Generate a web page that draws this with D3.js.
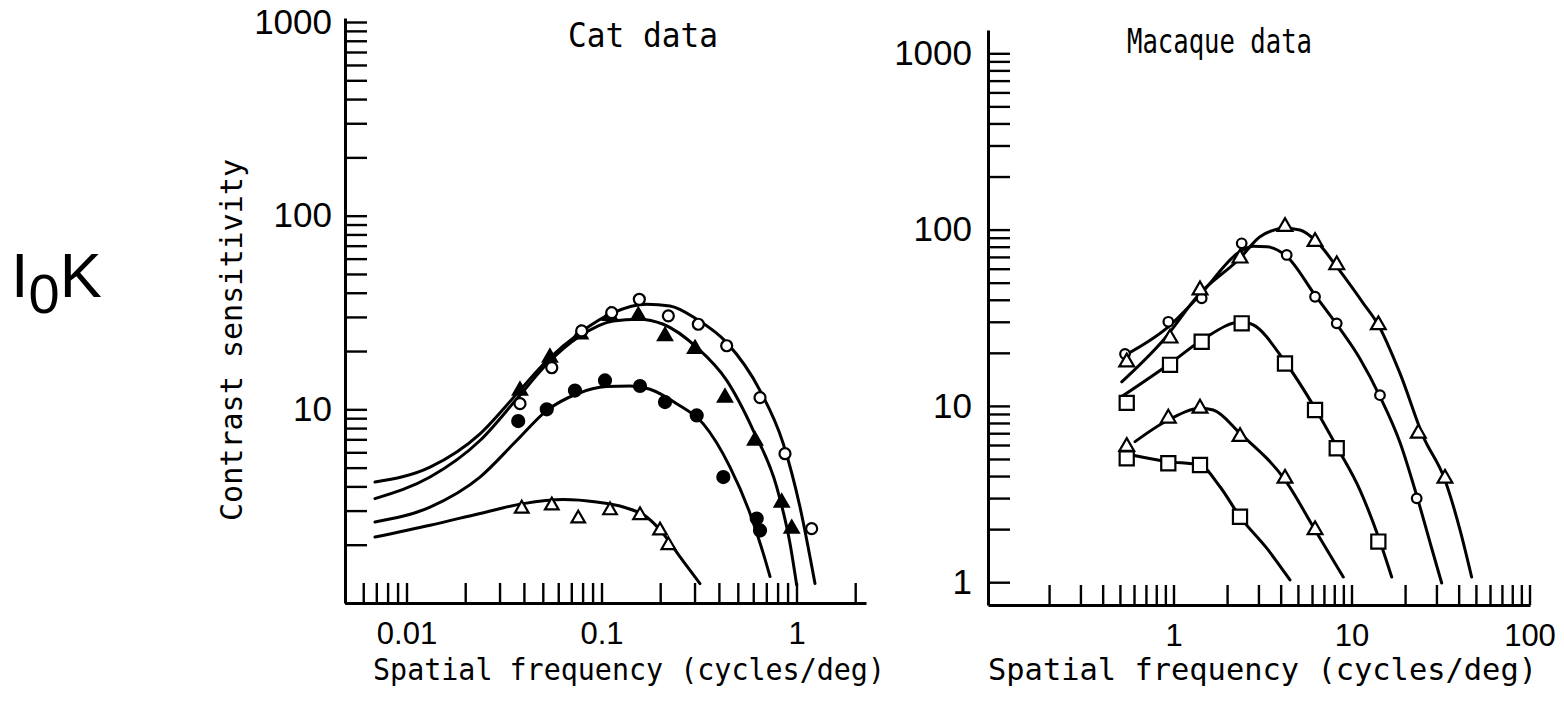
<!DOCTYPE html>
<html>
<head>
<meta charset="utf-8">
<script src="https://cdn.jsdelivr.net/npm/d3@7"></script>
<style>
  body { margin: 0; background: #fff; }
  svg { display: block; }
  .axis path { stroke: #000; stroke-width: 3; }
  .axis line { stroke: #000; stroke-width: 2.4; }
  .axis text { font-family: "Liberation Sans", Arial, sans-serif; fill: #000; }
  .curve { fill: none; stroke: #000; stroke-width: 3; stroke-linecap: round; }
  .plot-text { font-family: "DejaVu Sans Mono", monospace; fill: #000; }
</style>
</head>
<body>
<svg width="1564" height="706"></svg>
<script>
// ---- tick labels ----
var catFreqMajor = [0.01, 0.1, 1];
var catFreqLabels = ["0.01", "0.1", "1"];
var catSensMajor = [10, 100, 1000];
var catSensLabels = ["10", "100", "1000"];
var macFreqMajor = [1, 10, 100];
var macFreqLabels = ["1", "10", "100"];
var macSensMajor = [1, 10, 100, 1000];
var macSensLabels = ["1", "10", "100", "1000"];

// ---- cat data: [cycles/deg, contrast sensitivity] ----
var catOpenCircles = [[0.0382, 10.7], [0.0556, 16.4], [0.0791, 25.4], [0.1128, 31.6], [0.1563, 37.0],
  [0.2202, 30.4], [0.3137, 27.5], [0.4385, 21.3], [0.650, 11.5], [0.873, 5.9], [1.196, 2.42]];
var catFilledTriangles = [[0.0382, 12.5], [0.0544, 18.5], [0.078, 24.4], [0.1106, 30.4], [0.1545, 30.4],
  [0.2117, 23.9], [0.3016, 20.5], [0.4298, 11.5], [0.6125, 6.9], [0.8397, 3.3], [0.9449, 2.42]];
var catFilledCircles = [[0.0374, 8.7], [0.0524, 10.0], [0.0731, 12.5], [0.1042, 14.1], [0.1576, 13.2],
  [0.2117, 10.9], [0.3078, 9.3], [0.4214, 4.47], [0.6251, 2.73], [0.650, 2.37]];
var catOpenTriangles = [[0.0390, 3.07], [0.0556, 3.19], [0.0760, 2.73], [0.1106, 3.01], [0.1576, 2.84],
  [0.1995, 2.37], [0.2202, 1.99]];

// fitted curves
var catCurve1 = [[0.00689, 4.21], [0.01321, 5.03], [0.02382, 7.47], [0.03673, 12.0], [0.05236, 17.8],
  [0.07762, 24.9], [0.1149, 31.6], [0.1705, 34.9], [0.2244, 34.2], [0.3078, 29.2], [0.4385, 22.1],
  [0.6501, 12.5], [0.8555, 6.64], [1.042, 3.13], [1.244, 1.26]];
var catCurve2 = [[0.00689, 3.46], [0.01321, 4.47], [0.02382, 6.90], [0.03673, 11.3], [0.05236, 17.1],
  [0.07762, 23.9], [0.1149, 28.6], [0.1545, 29.2], [0.2074, 27.5], [0.3078, 20.9], [0.4385, 14.1],
  [0.6006, 7.77], [0.7918, 3.97], [0.9262, 2.03], [1.002, 1.24]];
var catCurve3 = [[0.00689, 2.62], [0.01321, 3.13], [0.02382, 4.47], [0.03673, 6.90], [0.05236, 9.85],
  [0.07459, 12.0], [0.1063, 13.1], [0.1400, 13.2], [0.1773, 12.7], [0.2430, 10.7], [0.3327, 8.41],
  [0.4560, 5.03], [0.5777, 2.90], [0.6760, 1.80], [0.7315, 1.37]];
var catCurve4 = [[0.00689, 2.19], [0.01321, 2.52], [0.02382, 2.90], [0.03972, 3.26], [0.06368, 3.42],
  [0.09446, 3.32], [0.1294, 3.13], [0.1705, 2.78], [0.2074, 2.28], [0.2528, 1.73], [0.3199, 1.26]];

// ---- macaque data ----
var macOpenTriangles = [[0.546, 17.7], [0.956, 24.2], [1.409, 45.4], [2.364, 68.8], [4.23, 103.9],
  [6.24, 85.4], [8.26, 63.0], [14.15, 28.8], [23.73, 6.99], [33.5, 3.88]];
var macOpenCircles = [[0.534, 19.7], [0.935, 30.0], [1.440, 40.8], [2.416, 83.6], [4.325, 71.8],
  [6.24, 41.6], [8.26, 29.4], [14.45, 11.5], [23.24, 2.99]];
var macSquares = [[0.546, 10.4], [0.956, 17.1], [1.440, 23.1], [2.416, 29.4], [4.23, 17.4],
  [6.24, 9.48], [8.26, 5.75], [14.15, 1.70]];
var macTriangles = [[0.546, 5.87], [0.935, 8.51], [1.409, 9.69], [2.364, 6.69], [4.23, 3.88], [6.24, 1.98]];
var macSquaresLow = [[0.546, 5.04], [0.935, 4.73], [1.409, 4.62], [2.364, 2.35]];

var macCurve1 = [[0.512, 13.7], [0.876, 23.6], [1.409, 43.5], [2.364, 68.8], [3.062, 91.2], [4.23, 101.7],
  [5.136, 99.5], [6.375, 85.4], [8.26, 61.6], [11.65, 38.2], [14.15, 28.8], [18.73, 15.3], [25.3, 6.69],
  [33.5, 3.80], [40.7, 1.98], [47.3, 1.07]];
var macCurve2 = [[0.534, 19.4], [0.935, 28.1], [1.409, 42.6], [2.364, 75.0], [2.808, 80.5], [3.34, 80.0],
  [4.325, 70.5], [6.24, 42.5], [8.26, 29.0], [11.16, 18.5], [14.45, 11.3], [18.73, 6.2], [23.24, 3.1],
  [28.0, 1.6], [32.1, 0.99]];
var macCurve3 = [[0.512, 11.3], [0.956, 17.4], [1.440, 23.6], [2.416, 30.0], [2.808, 28.8], [4.23, 17.8],
  [6.24, 9.69], [8.26, 5.87], [11.16, 3.33], [14.15, 1.81], [16.82, 1.07]];
var macCurve4 = [[0.608, 6.27], [0.935, 8.32], [1.422, 9.69], [1.673, 9.48], [2.364, 6.99], [4.23, 3.80],
  [6.24, 1.98], [8.99, 1.07]];
var macCurve5 = [[0.546, 5.34], [0.935, 4.83], [1.409, 4.62], [1.825, 3.48], [2.364, 2.35], [3.340, 1.56],
  [4.512, 1.03]];

var svg = d3.select("svg");

// log scale anchored on two decades, then stretched to the drawn axis ends
function stretchLog(d0, d1, r0, r1, p0, p1) {
  var s = d3.scaleLog().domain([d0, d1]).range([r0, r1]);
  return s.domain([s.invert(p0), s.invert(p1)]).range([p0, p1]);
}

function pickLabel(majors, labels) {
  return function(d) {
    for (var i = 0; i < majors.length; i++) {
      if (Math.abs(d / majors[i] - 1) < 1e-6) return labels[i];
    }
    return "";
  };
}

function drawAxes(x, y, o) {
  var xTicks = d3.scaleLog().domain(o.xTickRange).ticks();
  var yTicks = d3.scaleLog().domain([1, 1000]).ticks();

  svg.append("g")
    .attr("class", "axis")
    .attr("transform", "translate(0," + y.range()[0] + ")")
    .call(d3.axisBottom(x)
      .tickValues(xTicks)
      .tickSizeInner(-20)
      .tickSizeOuter(0)
      .tickPadding(19)
      .tickFormat(pickLabel(o.xMajor, o.xLabels)))
    .selectAll("text").style("font-size", "31px");

  svg.append("g")
    .attr("class", "axis")
    .attr("transform", "translate(" + x.range()[0] + ",0)")
    .call(d3.axisLeft(y)
      .tickValues(yTicks)
      .tickSizeInner(-22)
      .tickSizeOuter(0)
      .tickPadding(o.yPad)
      .tickFormat(pickLabel(o.yMajor, o.yLabels)))
    .selectAll("text").style("font-size", "35px");
}

function drawCurve(x, y, pts) {
  var line = d3.line()
    .x(function(d) { return x(d[0]); })
    .y(function(d) { return y(d[1]); })
    .curve(d3.curveMonotoneX);
  svg.append("path").attr("class", "curve").attr("d", line(pts));
}

function drawMarks(x, y, pts, kind, size, filled) {
  var g = svg.append("g");
  pts.forEach(function(p) {
    var cx = x(p[0]), cy = y(p[1]);
    var el;
    if (kind === "circle") {
      el = g.append("circle").attr("cx", cx).attr("cy", cy).attr("r", size);
    } else {
      var t = kind === "triangle" ? d3.symbolTriangle : d3.symbolSquare;
      el = g.append("path")
        .attr("transform", "translate(" + cx + "," + cy + ")")
        .attr("d", d3.symbol().type(t).size(size)());
    }
    el.attr("fill", filled ? "#000" : "#fff")
      .attr("stroke", "#000")
      .attr("stroke-width", 2.2);
  });
}

// ---- Cat panel ----
var xCat = stretchLog(0.01, 1, 406.5, 796.5, 345, 866);
var yCat = stretchLog(1, 1000, 603, 22, 603, 18);

drawAxes(xCat, yCat, {
  xTickRange: [0.006, 2], xMajor: catFreqMajor, xLabels: catFreqLabels,
  yMajor: catSensMajor, yLabels: catSensLabels, yPad: 13
});

[catCurve1, catCurve2, catCurve3, catCurve4].forEach(function(c) { drawCurve(xCat, yCat, c); });
drawMarks(xCat, yCat, catOpenTriangles, "triangle", 80, false);
drawMarks(xCat, yCat, catFilledCircles, "circle", 6, true);
drawMarks(xCat, yCat, catFilledTriangles, "triangle", 85, true);
drawMarks(xCat, yCat, catOpenCircles, "circle", 5.5, false);

// ---- Macaque panel ----
var xMac = stretchLog(1, 10, 1173.5, 1351.5, 988, 1530);
var yMac = stretchLog(1, 1000, 582.2, 53.3, 605, 30);

drawAxes(xMac, yMac, {
  xTickRange: [0.2, 100], xMajor: macFreqMajor, xLabels: macFreqLabels,
  yMajor: macSensMajor, yLabels: macSensLabels, yPad: 16
});

[macCurve1, macCurve2, macCurve3, macCurve4, macCurve5].forEach(function(c) { drawCurve(xMac, yMac, c); });
drawMarks(xMac, yMac, macSquaresLow, "square", 200, false);
drawMarks(xMac, yMac, macTriangles, "triangle", 95, false);
drawMarks(xMac, yMac, macSquares, "square", 200, false);
drawMarks(xMac, yMac, macOpenCircles, "circle", 4.8, false);
drawMarks(xMac, yMac, macOpenTriangles, "triangle", 95, false);

// ---- texts ----
function plotText(txt, x, y, size, len) {
  return svg.append("text")
    .attr("class", "plot-text")
    .attr("x", x).attr("y", y)
    .attr("textLength", len)
    .attr("lengthAdjust", "spacingAndGlyphs")
    .style("font-size", size + "px")
    .text(txt);
}

plotText("Cat data", 568, 47, 34, 150);
plotText("Macaque data", 1127, 53, 33, 185);
plotText("Spatial frequency (cycles/deg)", 373, 680, 31, 512);
plotText("Spatial frequency (cycles/deg)", 988, 680, 31, 549);
plotText("Contrast sensitivity", 0, 0, 31, 362)
  .attr("transform", "translate(242,521) rotate(-90)");

// I0K label on the far left
var iok = svg.append("text")
  .attr("x", 11).attr("y", 297)
  .style("font-family", '"Liberation Sans", Arial, sans-serif')
  .style("font-size", "63px");
iok.append("tspan").text("I");
iok.append("tspan").attr("dy", 16).style("font-size", "56px").text("0");
iok.append("tspan").attr("dy", -16).text("K");
</script>
</body>
</html>
